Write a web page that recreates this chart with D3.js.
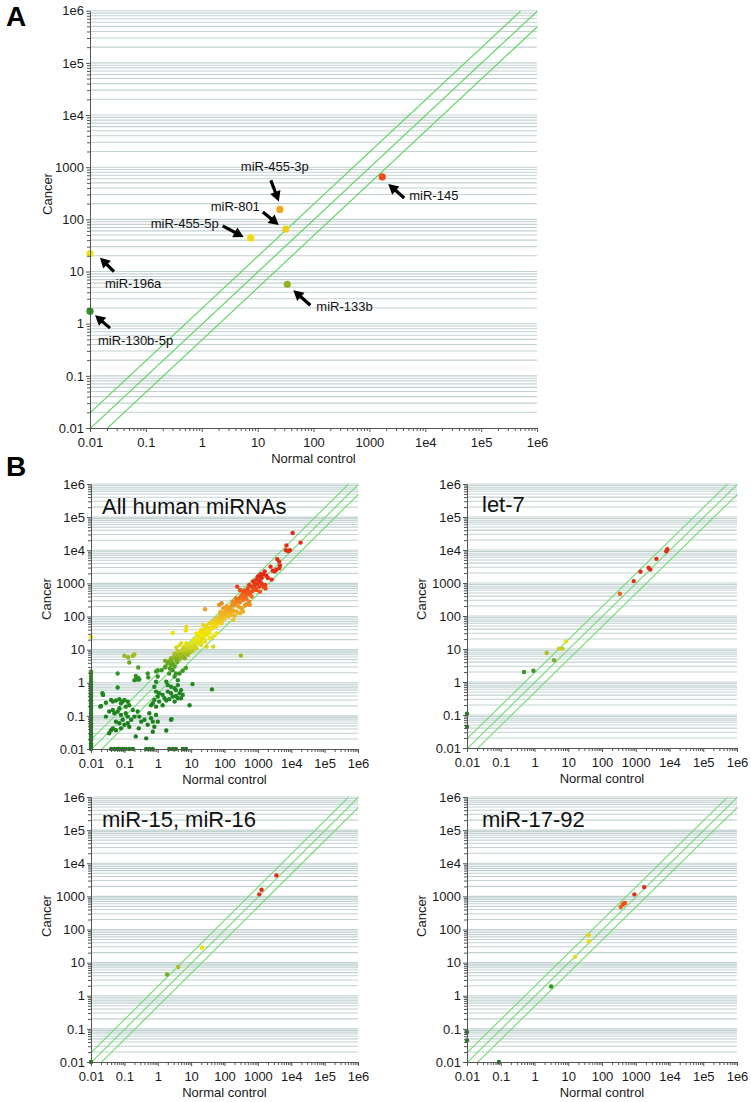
<!DOCTYPE html>
<html><head><meta charset="utf-8">
<script src="https://cdn.jsdelivr.net/npm/d3@7"></script>
<style>
body{margin:0;background:#fff}
text{font-family:"Liberation Sans",Arial,Helvetica,sans-serif}
</style>
</head><body>
<svg id="c" width="751" height="1102"></svg>
<script>
// ---------- DATA ----------
const tickValues = [0.01, 0.1, 1, 10, 100, 1000, 1e4, 1e5, 1e6];
const tickLabels = ["0.01", "0.1", "1", "10", "100", "1000", "1e4", "1e5", "1e6"];
const foldLines = [2, 1, 0.5];

// Panel A: labelled miRNAs
const aNames  = ["miR-145", "miR-455-3p", "miR-801", "miR-455-5p", "miR-196a", "miR-130b-5p", "miR-133b"];
const aNormal = [1700, 25, 32, 7.5, 0.01, 0.01, 34];
const aCancer = [650, 155, 65, 44, 22, 1.74, 5.7];

// Panel B: [normal control, cancer]
const allHuman = [
  // red / orange
  [11000,33000],[19000,17000],[7200,14000],[6900,10000],[8100,9500],[9100,10000],[3800,5400],[4300,4600],
  [4600,3500],[4400,2900],[3600,2600],[3200,2300],[2800,2400],[2400,3200],[1600,2300],[1450,1900],[1800,1700],
  [2000,1450],[1230,1400],[1100,1150],[960,980],[1300,1000],[1450,800],[1650,890],[1700,700],[2600,1300],
  [720,1150],[810,890],[650,800],[760,700],[910,630],[1150,560],[240,800],
  [290,630],[350,560],[410,500],[460,450],[510,560],[575,470],[650,400],[410,400],[320,430],[280,355],[360,316],
  [460,340],[550,280],[290,270],[230,250],[180,280],[200,225],[160,200],[260,200],[320,178],[410,214],[460,235],
  [575,225],[145,158],[180,148],[230,141],[130,135],[115,112],[160,117],[200,107],[290,126],[360,141],[92,100],
  [100,85],[73,79],[82,63],[65,71],[51,56],[58,50],[76,135],[26,166],
  // yellow
  [69,224],[82,250],[92,178],[115,200],[145,141],[102,120],[129,100],[162,112],[182,79],[72,100],[58,79],[46,71],
  [65,63],[82,71],[36,63],[29,50],[41,45],[51,50],[23,56],[20,40],[26,35],[32,31],[14.5,31],[16,25],[18,19.5],
  [11.5,19.5],[13,15.5],[10.2,13.8],[9.1,12.3],[7.2,15.5],[8.1,11],[6.5,12.3],[5.8,11],[2.8,32],[7.2,48],[6.9,38],
  [5.1,15.5],[4.6,13.8],[3.6,11.7],[20,13.8],[26,17.4],[36,22],[46,25],[58,31],[29,12.3],[14.5,11],[46,12.3],
  [3,6],[3.5,5],[4,7],[4.5,5.5],[5,8],[5,6],[6,9],[6,7],[7,10],[7.5,8],[8,12],[8.5,9],[9,10.5],[10,15],[10,12],
  [11,14],[12,18],[12,13],[14,20],[15,17],[16,22],[18,25],[20,24],[22,30],[25,35],[25,28],[28,40],[30,36],[35,45],
  [40,42],[45,60],[50,55],[3.8,4.2],[2.5,5.5],[2.2,4.5],[2.8,3.8],[6.5,5.5],[9,8],[13,11],[17,15],[20,17],[24,22],
  [7.5,13],[5.5,10],[18,32],[15,28],[4,9],[3.2,7.5],[11,9],[8,7],[30,28],[35,32],[60,70],[55,85],[70,80],[85,95],
  [65,90],[75,110],[110,150],[95,130],[130,170],[150,190],[170,230],[200,260],[250,310],[220,350],[300,380],
  [350,420],[400,600],[500,700],[600,550],[550,900],[700,600],[800,1000],[900,1300],[1000,1600],[1200,1900],
  [1300,1500],[1100,800],[850,700],
  // green
  [0.1,6.5],[0.13,5.9],[0.18,6.5],[0.2,7.1],[0.14,4.1],[0.26,2.9],[0.063,1.9],[0.5,1.9],[0.89,2.2],[1,2.4],
  [1.66,4.6],[2,3.9],[2.5,3.5],[1.66,2.9],[3.2,3.1],[2.8,2.4],[2.2,1.9],[3.5,1.9],[3.2,1.55],[4,1.2],[4.5,1.9],
  [5.6,2.3],[7,2.8],[0.28,1.26],[0.2,1.2],[0.22,1.6],[1,1.55],[0.89,1.07],[0.79,0.76],[11,0.91],[42,0.63],[310,6.6],
  [1.3,2.4],[1.7,3.1],[2.1,3.9],[2.6,4.4],[3.3,5.5],[4.1,6.2],[4.6,7],[2.3,2.7],[2.9,3.5],[3.7,4.9],
  [1.8,1.07],[2,0.85],[2.5,0.76],[3.2,0.68],[3.5,0.6],[4,0.85],[4.5,0.48],[3.5,0.4],[2.8,0.38],[2.2,0.32],[1.8,0.29],
  [1.6,0.34],[1.4,0.43],[1.1,0.48],[0.89,0.54],[1,0.38],[0.79,0.3],[0.71,0.24],[0.63,0.21],[0.89,0.19],[1.1,0.27],
  [1.4,0.21],[5,0.6],[5.6,0.43],[4,0.34],[3.2,0.27],[2.5,0.48],[2,0.54],[5,0.34],[9,0.21],[2.6,0.08],[1.8,0.036],
  [2.5,0.076],[0.25,0.135],[0.28,0.095],[0.32,0.067],[0.27,0.042],[0.22,0.024],[0.45,0.021],[0.56,0.12],[0.63,0.085],
  [0.71,0.067],[0.89,0.107],[1,0.067],[0.79,0.047],[0.71,0.033],[0.5,0.054],[0.4,0.076],
  [0.02,0.2],[0.028,0.25],[0.04,0.3],[0.045,0.27],[0.056,0.29],[0.071,0.32],[0.079,0.24],[0.089,0.27],[0.1,0.3],
  [0.126,0.27],[0.14,0.21],[0.11,0.19],[0.071,0.17],[0.045,0.15],[0.035,0.135],[0.05,0.12],[0.063,0.135],
  [0.079,0.107],[0.11,0.12],[0.126,0.095],[0.089,0.076],[0.071,0.06],[0.056,0.067],[0.1,0.054],[0.126,0.06],
  [0.14,0.047],[0.079,0.042],[0.056,0.037],[0.04,0.037],[0.035,0.03],[0.045,0.042],[0.022,0.48],[0.063,0.72],
  [0.028,0.095],[0.18,0.15],[0.2,0.095],[0.16,0.076],[0.019,0.19],[0.023,0.43],[0.52,1.45],[0.24,1.26],[0.26,1.4],
  // detected only in cancer (normal = 0.01)
  [0.01,24],[0.01,2.2],[0.01,1.9],[0.01,1.6],[0.01,1.3],[0.01,1.1],[0.01,0.9],[0.01,0.8],[0.01,0.7],[0.01,0.6],
  [0.01,0.5],[0.01,0.45],[0.01,0.4],[0.01,0.35],[0.01,0.3],[0.01,0.27],[0.01,0.24],[0.01,0.2],[0.01,0.18],
  [0.01,0.16],[0.01,0.14],[0.01,0.12],[0.01,0.1],[0.01,0.09],[0.01,0.08],[0.01,0.07],[0.01,0.06],[0.01,0.05],
  [0.01,0.045],[0.01,0.04],[0.01,0.035],[0.01,0.03],[0.01,0.027],[0.01,0.024],[0.01,0.02],[0.01,0.018],
  [0.01,0.015],[0.01,0.013],[0.01,0.011],[0.01,0.01],
  // detected only in normal (cancer = 0.01)
  [0.04,0.01],[0.05,0.01],[0.063,0.01],[0.071,0.01],[0.089,0.01],[0.11,0.01],[0.14,0.01],[0.18,0.01],
  [0.45,0.01],[0.56,0.01],[0.71,0.01],[2.2,0.01],[2.8,0.01],[3.5,0.01],[5.6,0.01],[7,0.01]
];
const let7 = [[8600,10500],[8000,9200],[4100,5400],[2400,2900],[2700,2550],[1380,2200],[870,1140],[340,470],
  [8.5,17],[6.7,10.3],[5.3,10.3],[2.3,7.6],[3.8,4.6],[0.93,2.2],[0.49,2.0],[0.01,0.11],[0.01,0.044]];
const mir15_16 = [[3600,4300],[1290,1590],[1100,1150],[21,28],[4.1,7.4],[1.9,4.4],[0.01,0.01]];
const mir17_92 = [[1780,1900],[910,1150],[480,630],[410,560],[360,480],[430,600],[40,67],[40,44],[16,15],
  [3.1,1.9],[0.01,0.08],[0.01,0.045],[0.088,0.01]];

// ---------- LAYOUT ----------
const svg = d3.select("#c");
const FONT = 13;
const colorScale = d3.scaleLinear()
  .domain([-2, 0, 0.4, 0.8, 1.15, 1.5, 1.9, 2.3, 2.7, 3.1])
  .range(["#1b7a1b", "#1f8a1f", "#3d9a20", "#9ab820", "#e0e020", "#f2e600", "#f0c820", "#f09a20", "#f05a18", "#e42a14"])
  .clamp(true);

const minorVals = [];
tickValues.slice(0, -1).forEach(v => { for (let k = 2; k <= 9; k++) minorVals.push(v * k); });
const gridVals = tickValues.concat(minorVals).filter(v => v > 0.01);

function drawPanel(L, pts) {
  const xs = d3.scaleLog().domain([0.01, 1e6]).range([L.left, L.right]);
  const ys = d3.scaleLog().domain([0.01, 1e6]).range([L.bottom, L.top]);
  const g = svg.append("g");

  g.append("g").selectAll("line").data(gridVals).join("line")
    .attr("x1", L.left).attr("x2", L.right)
    .attr("y1", d => ys(d)).attr("y2", d => ys(d))
    .attr("stroke", "#c2d2d2").attr("stroke-width", 1.1);

  g.append("g").attr("transform", "translate(0.35,0.35)")
    .selectAll("path").data(foldLines).join("path")
    .attr("d", f => {
      const xa = Math.max(0.01, 0.01 / f), xb = Math.min(1e6, 1e6 / f);
      return `M${xs(xa)},${ys(f * xa)}L${xs(xb)},${ys(f * xb)}`;
    })
    .attr("fill", "none").attr("stroke", L.diag).attr("stroke-width", L.dw);

  g.append("g").selectAll("circle").data(pts).join("circle")
    .attr("cx", d => xs(d[0])).attr("cy", d => ys(d[1])).attr("r", L.r)
    .attr("fill", d => colorScale(Math.log10(d[1])));

  // axes
  const yMaj = d3.axisLeft(ys).tickValues(tickValues).tickFormat((d, i) => tickLabels[i])
    .tickSizeInner(4).tickSizeOuter(0).tickPadding(2);
  const yMin = d3.axisLeft(ys).tickValues(minorVals).tickFormat("").tickSize(3);
  const xMaj = d3.axisBottom(xs).tickValues(tickValues).tickFormat((d, i) => tickLabels[i])
    .tickSizeInner(4).tickSizeOuter(0).tickPadding(6);
  const xMin = d3.axisBottom(xs).tickValues(minorVals).tickFormat("").tickSize(3);

  const ax = g.append("g");
  ax.append("g").attr("transform", `translate(${L.left},0)`).call(yMin).call(s => s.select(".domain").remove());
  ax.append("g").attr("transform", `translate(${L.left},0)`).call(yMaj);
  ax.append("g").attr("transform", `translate(0,${L.bottom})`).call(xMin).call(s => s.select(".domain").remove());
  ax.append("g").attr("transform", `translate(0,${L.bottom})`).call(xMaj);
  ax.selectAll("text").attr("font-size", FONT).attr("fill", "#1a1a1a")
    .attr("font-family", '"Liberation Sans",Arial,sans-serif');
  ax.selectAll("line").attr("stroke", "#555");
  ax.selectAll(".domain").attr("stroke", "#555");

  g.append("text").attr("x", (L.left + L.right) / 2).attr("y", L.bottom + 35)
    .attr("text-anchor", "middle").attr("font-size", FONT).attr("fill", "#1a1a1a").text("Normal control");
  g.append("text").attr("transform", `translate(${L.cancerX},${L.cancerY}) rotate(-90)`)
    .attr("text-anchor", "middle").attr("dominant-baseline", "central")
    .attr("font-size", FONT).attr("fill", "#1a1a1a").text("Cancer");
  if (L.title) {
    g.append("text").attr("x", L.titleX).attr("y", L.titleY).attr("font-size", 22)
      .attr("fill", "#111").text(L.title);
  }
  return { xs, ys, g };
}

// Panel A
const layoutA = { left: 90, right: 537, top: 10.7, bottom: 428, r: 3.6, diag: "#55d455", dw: 1.1, cancerX: 47, cancerY: 194 };
const aPts = aNames.map((n, i) => [aNormal[i], aCancer[i], n]);
const A = drawPanel(layoutA, aPts);

// annotation offsets (pixels, relative to each point): arrow head, arrow tail, label anchor
const annot = {
  "miR-145":     { head: [6, 7],   tail: [22, 21],  label: [27, 23],  anchor: "start" },
  "miR-455-3p":  { head: [-1, -8], tail: [-9, -29], label: [-39, -38], anchor: "start" },
  "miR-801":     { head: [-7, -4], tail: [-23, -17], label: [-26, -18], anchor: "end" },
  "miR-455-5p":  { head: [-7, -1], tail: [-28, -12], label: [-32, -10], anchor: "end" },
  "miR-196a":    { head: [10, 4],  tail: [24, 18],  label: [15, 34],  anchor: "start" },
  "miR-130b-5p": { head: [5, 4],   tail: [20, 17],  label: [8, 34],   anchor: "start" },
  "miR-133b":    { head: [6, 6],   tail: [23, 21],  label: [29, 27],  anchor: "start" }
};
const ag = svg.append("g");
aPts.forEach(p => {
  const o = annot[p[2]];
  const px = A.xs(p[0]), py = A.ys(p[1]);
  const hx = px + o.head[0], hy = py + o.head[1];
  const tx = px + o.tail[0], ty = py + o.tail[1];
  const dx = hx - tx, dy = hy - ty, len = Math.hypot(dx, dy);
  const ux = dx / len, uy = dy / len, nx = -uy, ny = ux;
  const HL = 10, HW = 5.5;
  const bx = hx - ux * HL, by = hy - uy * HL;
  ag.append("line").attr("x1", tx).attr("y1", ty).attr("x2", bx + ux * 2).attr("y2", by + uy * 2)
    .attr("stroke", "#000").attr("stroke-width", 3.2);
  ag.append("path").attr("d", `M${hx},${hy}L${bx + nx * HW},${by + ny * HW}L${bx - nx * HW},${by - ny * HW}Z`)
    .attr("fill", "#000");
  ag.append("text").attr("x", px + o.label[0]).attr("y", py + o.label[1]).attr("text-anchor", o.anchor)
    .attr("font-size", FONT).attr("fill", "#111").text(p[2]);
});

// Panel B
const bStyle = { r: 2.2, diag: "#6fdc6f", dw: 1.1 };
drawPanel(Object.assign({ left: 91, right: 358, top: 484, bottom: 749, cancerX: 46, cancerY: 599,
  title: "All human miRNAs", titleX: 102, titleY: 514 }, bStyle), allHuman);
drawPanel(Object.assign({ left: 467, right: 737, top: 484, bottom: 748, cancerX: 421, cancerY: 599,
  title: "let-7", titleX: 482, titleY: 512 }, bStyle), let7);
drawPanel(Object.assign({ left: 91, right: 358, top: 797, bottom: 1062, cancerX: 46, cancerY: 916,
  title: "miR-15, miR-16", titleX: 102, titleY: 827 }, bStyle), mir15_16);
drawPanel(Object.assign({ left: 467, right: 737, top: 797, bottom: 1062, cancerX: 421, cancerY: 916,
  title: "miR-17-92", titleX: 482, titleY: 827 }, bStyle), mir17_92);

// panel letters
svg.append("text").attr("x", 6).attr("y", 26).attr("font-size", 28).attr("font-weight", "bold").text("A");
svg.append("text").attr("x", 6).attr("y", 476).attr("font-size", 28).attr("font-weight", "bold").text("B");
</script>
</body></html>
